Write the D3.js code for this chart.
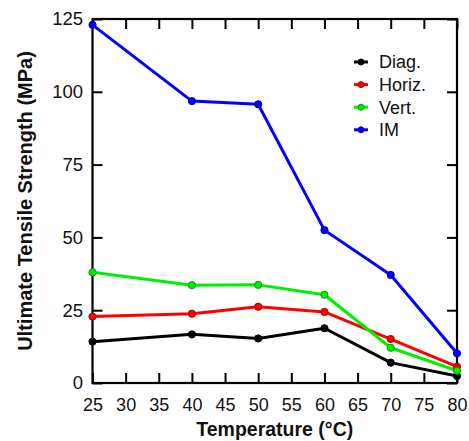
<!DOCTYPE html>
<html><head><meta charset="utf-8">
<script src="https://cdn.jsdelivr.net/npm/d3@7"></script>
<style>html,body{margin:0;padding:0;background:#fff;}svg{display:block;font-family:Arial,"Liberation Sans",sans-serif;}</style>
</head><body>
<svg id="c" width="469" height="441"></svg>
<script>
const temps = [25, 40, 50, 60, 70, 80];
const diag  = [14.2, 16.7, 15.3, 18.8, 7.0, 2.4];
const horiz = [22.8, 23.8, 26.2, 24.4, 15.1, 5.6];
const vert  = [38.0, 33.6, 33.7, 30.3, 12.1, 4.2];
const im    = [123.0, 96.8, 95.7, 52.5, 37.1, 10.2];
const seriesNames = ["Diag.", "Horiz.", "Vert.", "IM"];
const seriesColors = ["#000000", "#ff0000", "#00ee00", "#0000ff"];
const xTicks = [25, 30, 35, 40, 45, 50, 55, 60, 65, 70, 75, 80];
const yTicks = [0, 25, 50, 75, 100, 125];
const xTitle = "Temperature (°C)";
const yTitle = "Ultimate Tensile Strength (MPa)";

const series = [diag, horiz, vert, im].map((v, i) => ({name: seriesNames[i], color: seriesColors[i], values: v}));

const svg = d3.select("#c");
const L = 92.5, R = 457, T = 19, B = 383;
const x = d3.scaleLinear().domain([25, 80]).range([L, R]);
const y = d3.scaleLinear().domain([0, 125]).range([B, T]);

const tl = 10;
const gx = svg.append("g").attr("transform", `translate(0,${B})`)
  .call(d3.axisBottom(x).tickValues(xTicks).tickSizeInner(-tl).tickSizeOuter(0).tickPadding(15));
const gxt = svg.append("g").attr("transform", `translate(0,${T})`)
  .call(d3.axisTop(x).tickValues(xTicks).tickSizeInner(-tl).tickSizeOuter(0).tickFormat(""));
const gy = svg.append("g").attr("transform", `translate(${L},0)`)
  .call(d3.axisLeft(y).tickValues(yTicks).tickSizeInner(-tl).tickSizeOuter(0).tickPadding(9.5));
const gyr = svg.append("g").attr("transform", `translate(${R},0)`)
  .call(d3.axisRight(y).tickValues(yTicks).tickSizeInner(-tl).tickSizeOuter(0).tickFormat(""));
[gx, gxt, gy, gyr].forEach(g => {
  g.select(".domain").remove();
  g.selectAll(".tick line").attr("stroke", "#000").attr("stroke-width", 2);
  g.selectAll(".tick text").attr("fill", "#111").style("font-size", "18.5px").style("font-family", "Arial, 'Liberation Sans', sans-serif");
});
gx.selectAll(".tick text").style("font-size", "18px");

svg.append("rect").attr("x", L).attr("y", T).attr("width", R - L).attr("height", B - T)
  .attr("fill", "none").attr("stroke", "#000").attr("stroke-width", 2.2);

const line = d3.line().x((d, i) => x(temps[i])).y(d => y(d));
const plotG = svg.append("g");
series.forEach(s => {
  plotG.append("path").datum(s.values).attr("d", line)
    .attr("fill", "none").attr("stroke", s.color).attr("stroke-width", 3).attr("stroke-linejoin", "round");
});
series.forEach(s => {
  plotG.selectAll(null).data(s.values).enter().append("circle")
    .attr("cx", (d, i) => x(temps[i])).attr("cy", d => y(d)).attr("r", 3.6)
    .attr("fill", s.color).attr("stroke", d3.color(s.color).darker(1.2)).attr("stroke-width", 1);
});

const lg = svg.append("g");
series.forEach((s, i) => {
  const yy = 62 + i * 22.6;
  lg.append("line").attr("x1", 354).attr("x2", 368).attr("y1", yy).attr("y2", yy)
    .attr("stroke", s.color).attr("stroke-width", 3);
  lg.append("circle").attr("cx", 361).attr("cy", yy).attr("r", 3)
    .attr("fill", s.color).attr("stroke", d3.color(s.color).darker(1.2)).attr("stroke-width", 1);
  lg.append("text").attr("x", 379).attr("y", yy).attr("dy", "0.35em")
    .style("font-size", "18px").attr("fill", "#111").text(s.name);
});

svg.append("text").attr("x", (L + R) / 2).attr("y", 436).attr("text-anchor", "middle")
  .style("font-size", "19.5px").style("font-weight", "bold").attr("fill", "#111").text(xTitle);
svg.append("text").attr("transform", `translate(32,${(T + B) / 2}) rotate(-90)`).attr("text-anchor", "middle")
  .style("font-size", "20px").style("font-weight", "bold").attr("fill", "#111").text(yTitle);
</script>
</body></html>
